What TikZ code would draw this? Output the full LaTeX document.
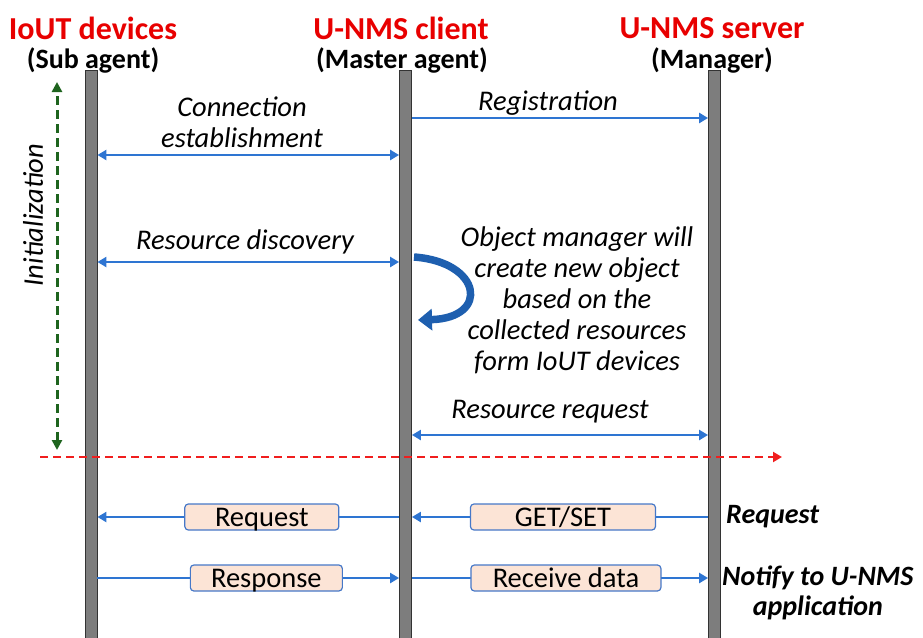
\documentclass[tikz,border=0pt]{standalone}
\usepackage{fontspec}
\setmainfont{Carlito}
\usetikzlibrary{arrows.meta,calc}
\definecolor{hdrred}{RGB}{232,0,0}
\definecolor{msgblue}{RGB}{46,117,210}
\definecolor{curveblue}{RGB}{30,95,175}
\definecolor{initgreen}{RGB}{30,100,30}
\definecolor{sepred}{RGB}{240,30,30}
\definecolor{boxfill}{RGB}{252,228,214}
\definecolor{boxline}{RGB}{70,120,200}
\definecolor{barfill}{RGB}{125,125,125}
\tikzset{
  hdr/.style={text=hdrred,font=\fontsize{32}{36}\selectfont\bfseries,inner sep=0pt},
  sub/.style={font=\fontsize{28}{32}\selectfont\bfseries,inner sep=0pt},
  lifeline/.style={draw=black!80,fill=barfill,line width=0.8pt,minimum width=12pt,inner sep=0pt},
  lbl/.style={font=\fontsize{28.5}{31}\selectfont\itshape,inner sep=0pt,align=center},
  rlbl/.style={font=\fontsize{28}{30}\selectfont\bfseries\itshape,inner sep=0pt,align=center},
  msg/.style={draw=msgblue,line width=2.5pt,-{Triangle[width=10pt,length=9pt]}},
  dmsg/.style={draw=msgblue,line width=2.5pt,{Triangle[width=10pt,length=9pt]}-{Triangle[width=10pt,length=9pt]}},
  tag/.style={draw=boxline,fill=boxfill,rounded corners=3.5pt,line width=1.2pt,font=\fontsize{28.5}{30}\selectfont,minimum height=26pt,inner sep=0pt,text height=18.4pt,text depth=0pt},
}
\begin{document}
\begin{tikzpicture}[x=1pt,y=-1pt]
\useasboundingbox (0,0) rectangle (923,637);
% headers
\node[hdr] (h1) at (93,28) {IoUT devices};
\node[hdr] (h2) at (401,28) {U-NMS client};
\node[hdr] (h3) at (712,28) {U-NMS server};
\node[sub] (s1) at (93,60) {(Sub agent)};
\node[sub] (s2) at (402,60) {(Master agent)};
\node[sub] (s3) at (712,60) {(Manager)};
% lifelines
\node[lifeline,minimum height=570pt,anchor=north] (L) at (91,70) {};
\node[lifeline,minimum height=570pt,anchor=north] (M) at (405.5,70) {};
\node[lifeline,minimum height=570pt,anchor=north] (R) at (714.5,70) {};
% rows
\coordinate (y1) at (0,118);
\coordinate (y2) at (0,155);
\coordinate (y3) at (0,262);
\coordinate (y4) at (0,435);
\coordinate (y6) at (0,517);
\coordinate (y7) at (0,578);
% registration
\draw[msg] (M.east |- y1) -- (R.west |- y1);
\node[lbl] (lreg) at (548,103) {Registration};
% connection establishment
\draw[dmsg] (L.east |- y2) -- (M.west |- y2);
\node[lbl] (lcon) at (242,122) {Connection\\establishment};
% resource discovery
\draw[dmsg] (L.east |- y3) -- (M.west |- y3);
\node[lbl] (lres) at (245,242) {Resource discovery};
% curved arrow
\coordinate (c1) at (414,257);
\coordinate (c2) at (418,320);
\draw[curveblue,line width=7.5pt,-{Triangle[width=21pt,length=14pt]}] (c1) .. controls (482,262) and (490,318) .. (c2);
\node[lbl] (lobj) at (577,300) {Object manager will\\create new object\\based on the\\collected resources\\form IoUT devices};
% resource request
\draw[dmsg] (M.east |- y4) -- (R.west |- y4);
\node[lbl] (lrr) at (550,412) {Resource request};
% separator
\coordinate (sepA) at (40,457);
\coordinate (sepB) at (782,457);
\draw[sepred,line width=2.2pt,dash pattern=on 8pt off 5pt,-{Triangle[width=10pt,length=9pt]}] (sepA) -- (sepB);
% initialization
\coordinate (iniA) at (57,450);
\coordinate (iniB) at (57,82);
\draw[initgreen,line width=3pt,dash pattern=on 9pt off 5pt,{Triangle[width=10pt,length=10pt]}-{Triangle[width=10pt,length=10pt]}] (iniA) -- (iniB);
\node[lbl,rotate=90] (lini) at (33,215) {Initialization};
% request row
\draw[msg] (M.west |- y6) -- node[tag,minimum width=154pt,pos=0.455] (treq) {Request} (L.east |- y6);
\draw[msg] (R.west |- y6) -- node[tag,minimum width=185pt,pos=0.49] (tget) {GET/SET} (M.east |- y6);
\node[rlbl,anchor=west] (lrq) at (726,517) {Request};
% response row
\draw[msg] (L.east |- y7) -- node[tag,minimum width=152pt,pos=0.56] (tresp) {Response} (M.west |- y7);
\draw[msg] (M.east |- y7) -- node[tag,minimum width=190pt,pos=0.52] (trec) {Receive data} (R.west |- y7);
\node[rlbl,anchor=west] (lnot) at (722,593) {Notify to U-NMS\\application};
\end{tikzpicture}
\end{document}
